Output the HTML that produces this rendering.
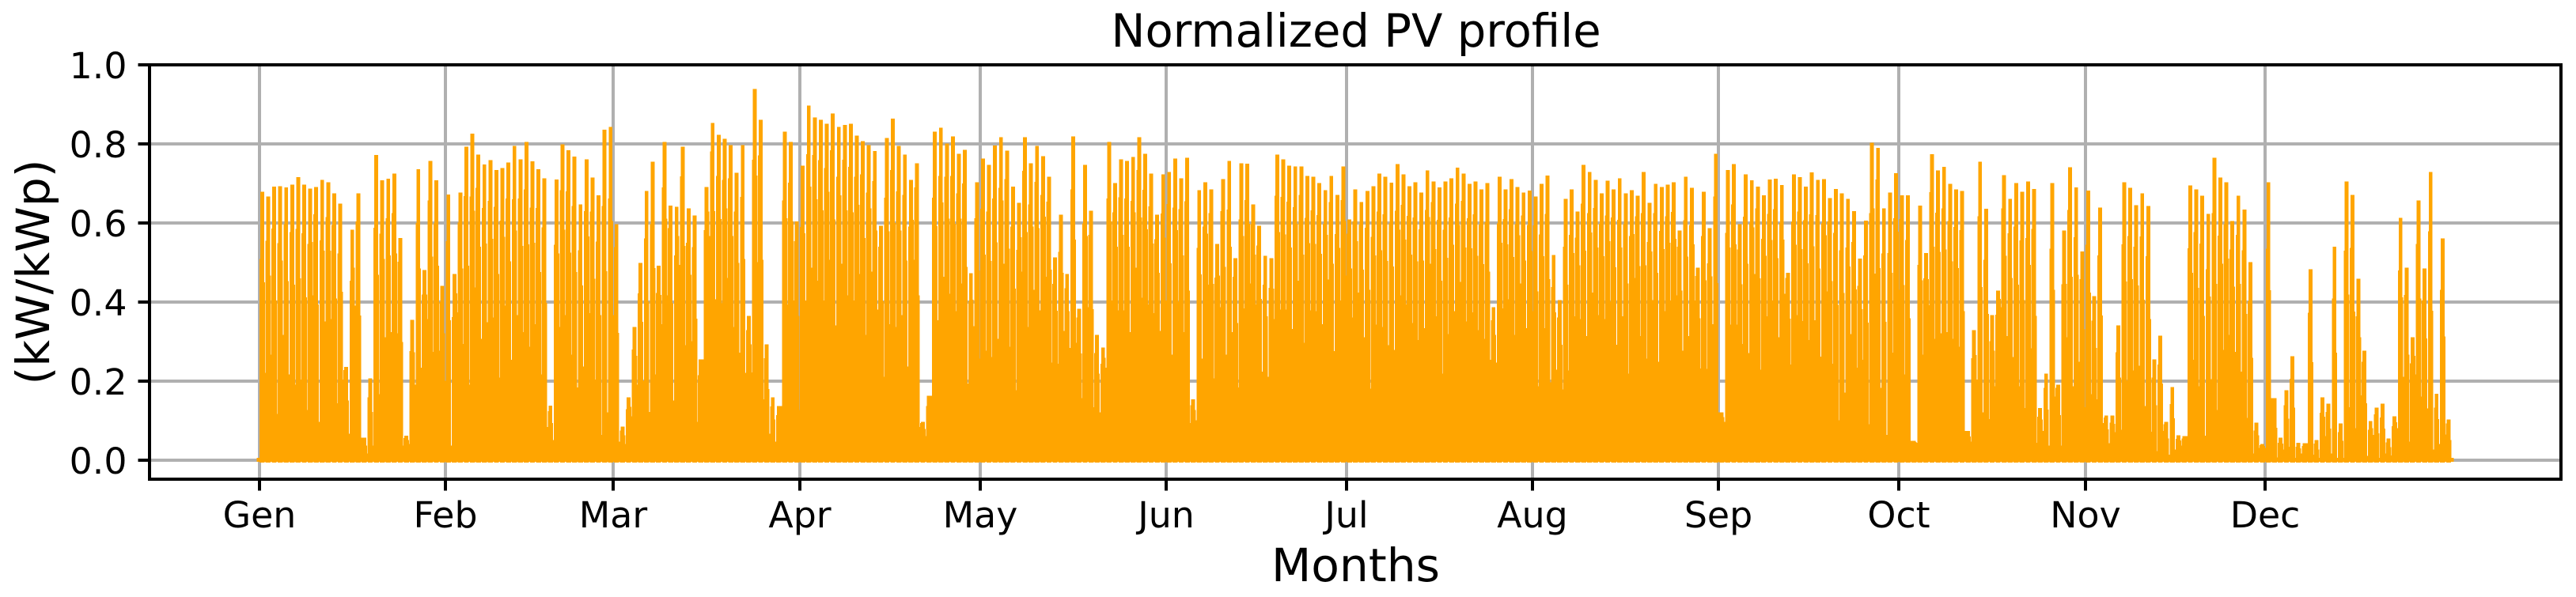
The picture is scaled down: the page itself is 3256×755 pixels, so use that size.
<!DOCTYPE html>
<html lang="en">
<head>
<meta charset="utf-8">
<title>Normalized PV profile</title>
<style>
html,body{margin:0;padding:0;background:#fff;width:3256px;height:755px;overflow:hidden}
svg{display:block}
text{font-family:"DejaVu Sans","Liberation Sans",sans-serif;fill:#000}
</style>
</head>
<body>
<svg id="chart" xmlns="http://www.w3.org/2000/svg" width="3256" height="755" viewBox="0 0 3256 755"></svg>
<script>
const chartTitle = "Normalized PV profile";
const xAxisTitle = "Months";
const yAxisTitle = "(kW/kWp)";
const monthLabels = ["Gen","Feb","Mar","Apr","May","Jun","Jul","Aug","Sep","Oct","Nov","Dec"];
const monthStartHours = [0,744,1416,2160,2880,3624,4344,5088,5832,6552,7296,8016];
const yTickValues = [0,0.2,0.4,0.6,0.8,1];
const yTickLabels = ["0.0","0.2","0.4","0.6","0.8","1.0"];
const hoursPerDay = 24;
const lastHour = 8759;
const dailyPeak = [
.679,.667,.692,.693,.690,.697,.716,.697,.687,.691,.709,.703,.675,.649,.236,.583,.675,.057,.207,.772,.708,.712,.725,.562,.062,.355,.736,.481,.757,.708,.441,.672,.471,.677,.793,.826,.773,.748,.759,.734,.739,.753,.795,.761,.805,.756,.736,.713,.138,.710,.799,.784,.768,.647,.761,.715,.670,.836,.843,.597,.085,
.159,.337,.499,.681,.755,.492,.805,.644,.641,.793,.637,.619,.255,.691,.853,.823,.813,.797,.727,.797,.365,.939,.861,.293,.159,.137,.831,.805,.604,.745,.897,.867,.861,.851,.877,.843,.848,.851,.821,.807,.797,.782,.593,.815,.864,.795,.773,.709,.751,.097,.163,.831,.841,.801,.819,.775,.785,.473,.703,.763,.747,
.796,.817,.783,.692,.651,.817,.751,.795,.769,.717,.513,.621,.471,.819,.383,.747,.631,.317,.285,.805,.701,.761,.757,.767,.817,.775,.725,.621,.723,.729,.763,.713,.765,.154,.683,.703,.685,.547,.711,.757,.511,.751,.750,.647,.593,.517,.511,.773,.761,.745,.743,.743,.719,.717,.701,.683,.719,.671,.743,.609,.685,
.653,.681,.693,.725,.717,.702,.749,.723,.693,.703,.677,.733,.705,.690,.705,.713,.740,.725,.699,.705,.685,.701,.387,.717,.685,.711,.691,.677,.682,.667,.699,.720,.519,.405,.661,.685,.629,.747,.729,.709,.675,.707,.685,.713,.675,.683,.669,.729,.651,.699,.691,.697,.703,.581,.717,.689,.487,.679,.587,.775,.121,
.734,.749,.597,.723,.708,.692,.670,.710,.712,.696,.474,.723,.716,.692,.728,.709,.711,.663,.686,.675,.661,.630,.510,.606,.803,.790,.637,.677,.726,.670,.670,.049,.644,.524,.774,.733,.742,.699,.685,.681,.074,.329,.755,.636,.367,.429,.721,.661,.701,.679,.705,.686,.132,.219,.701,.191,.581,.741,.690,.528,.682,
.415,.639,.113,.113,.341,.703,.689,.645,.675,.643,.255,.315,.097,.185,.063,.061,.695,.685,.669,.623,.765,.715,.703,.605,.669,.634,.501,.095,.041,.703,.157,.057,.177,.263,.044,.043,.483,.051,.159,.143,.540,.093,.705,.671,.459,.277,.099,.133,.143,.055,.111,.613,.487,.311,.657,.485,.729,.168,.561,.103
];
const dailyValley = [
.221,.267,.117,.317,.217,.191,.204,.127,.417,.097,.351,.357,.144,.204,.067,.391,.057,.017,.037,.167,.311,.324,.321,.037,.041,.191,.234,.357,.274,.277,.201,.037,.374,.294,.191,.437,.307,.349,.361,.209,.391,.254,.367,.324,.287,.344,.217,.084,.051,.337,.367,.267,.184,.237,.372,.204,.064,.121,.367,.047,.041,
.111,.191,.201,.122,.217,.344,.417,.151,.494,.291,.301,.097,.314,.567,.407,.397,.461,.337,.272,.221,.222,.501,.154,.067,.047,.491,.394,.404,.127,.404,.487,.454,.404,.507,.341,.497,.417,.404,.471,.317,.477,.381,.211,.344,.337,.367,.237,.507,.084,.061,.457,.354,.464,.421,.377,.447,.194,.339,.257,.277,.261,
.307,.497,.287,.177,.477,.337,.431,.379,.464,.247,.244,.327,.284,.297,.157,.387,.134,.121,.234,.404,.379,.379,.324,.487,.411,.394,.372,.327,.404,.267,.401,.324,.094,.101,.257,.444,.207,.387,.267,.324,.184,.384,.447,.394,.224,.211,.357,.381,.381,.332,.454,.297,.379,.377,.344,.457,.276,.404,.467,.361,.424,
.311,.181,.343,.337,.291,.279,.417,.394,.347,.304,.334,.497,.364,.219,.319,.377,.451,.351,.374,.329,.307,.254,.247,.384,.407,.317,.447,.334,.377,.187,.334,.197,.229,.179,.227,.364,.357,.314,.424,.367,.357,.401,.292,.364,.219,.461,.314,.257,.405,.249,.377,.404,.417,.277,.314,.404,.232,.231,.344,.337,.097,
.343,.343,.294,.271,.471,.229,.364,.404,.311,.421,.242,.367,.352,.304,.354,.262,.427,.244,.101,.171,.319,.234,.254,.091,.472,.183,.064,.272,.431,.217,.074,.044,.267,.392,.307,.321,.324,.307,.287,.157,.047,.204,.121,.104,.187,.387,.314,.261,.187,.132,.283,.044,.074,.037,.161,.037,.311,.187,.249,.134,.167,
.154,.094,.043,.071,.077,.201,.227,.239,.137,.072,.023,.074,.014,.027,.037,.091,.254,.187,.062,.205,.127,.279,.317,.274,.224,.107,.017,.031,.031,.231,.007,.027,.034,.004,.017,.044,.014,.004,.061,.017,.005,.005,.134,.081,.164,.011,.064,.004,.017,.012,.081,.211,.047,.217,.161,.131,.027,.041,.065,0
];

const SVG_NS = "http://www.w3.org/2000/svg";
const svg = document.getElementById("chart");
const axLeft = 189, axRight = 3237, axTop = 82, axBottom = 606;
const y0px = 582, pxPerUnit = 500;
const xMarginPx = (axRight - axLeft) / 1.1 * 0.05;
const pxPerHour = (axRight - axLeft) / 1.1 / lastHour;
const PV_ORANGE = "#FFA500", GRID = "#b0b0b0";

function xScale(h){ return axLeft + xMarginPx + h * pxPerHour; }
function yScale(v){ return y0px - v * pxPerUnit; }
function make(tag, attrs, text){
  const n = document.createElementNS(SVG_NS, tag);
  for (const k in attrs) n.setAttribute(k, attrs[k]);
  if (text !== undefined) n.textContent = text;
  svg.appendChild(n);
  return n;
}
const crisp = "crispEdges";

const plotBg = make("rect",{x:axLeft,y:axTop,width:axRight-axLeft,height:axBottom-axTop,fill:"#fff"});



/* grid */
yTickValues.forEach(function(v){
  const g = make("rect",{x:axLeft,y:yScale(v)-2,width:axRight-axLeft,height:4,fill:GRID,"shape-rendering":crisp});
  
  
});
monthStartHours.forEach(function(h){
  const g = make("rect",{x:Math.round(xScale(h))-2,y:axTop,width:4,height:axBottom-axTop,fill:GRID,"shape-rendering":crisp});
  
  
});

/* baseline of the series (night hours at zero) */
const base = make("rect",{x:xScale(0)-3,y:yScale(0)-3,width:xScale(lastHour)-xScale(0)+6,height:5,fill:PV_ORANGE,"shape-rendering":crisp});



/* one tower per day, driven by dailyPeak / dailyValley */
dailyPeak.forEach(function(peak, d){
  const cx = xScale(d * hoursPerDay + 12);
  const prevPeak = d > 0 ? dailyPeak[d-1] : 0;
  const nextPeak = d < dailyPeak.length-1 ? dailyPeak[d+1] : 0;
  const vL = Math.min(d > 0 ? dailyValley[d-1] : 0, peak, prevPeak);
  const vR = Math.min(dailyValley[d], peak, nextPeak);
  const sL = vL + (peak - vL) * 0.75, sR = vR + (peak - vR) * 0.5;
  const yb = yScale(0) + 3, yn = yScale(0) + 2;
  const pts = [
    [cx-3.2,yb],[cx-3.2,yn],[cx-3.9,yn],[cx-3.9,yScale(vL)],[cx-3.45,yScale(vL)],
    [cx-3.45,yScale(sL)],[cx-2.45,yScale(sL)],[cx-2.45,yScale(peak)],
    [cx+2.45,yScale(peak)],[cx+2.45,yScale(sR)],[cx+3.45,yScale(sR)],
    [cx+3.45,yScale(vR)],[cx+3.9,yScale(vR)],[cx+3.9,yn],[cx+3.2,yn],[cx+3.2,yb]
  ];
  const p = make("polygon",{points:pts.map(function(q){return q[0].toFixed(2)+","+q[1].toFixed(2);}).join(" "),fill:PV_ORANGE,"shape-rendering":crisp});
  
  
});

/* ticks */
yTickValues.forEach(function(v,i){
  const t = make("rect",{x:axLeft-14.6,y:yScale(v)-2,width:14.6,height:4,fill:"#000","shape-rendering":crisp});
  
  
  const l = make("text",{x:160.5,y:yScale(v)+17,"text-anchor":"end","font-size":"45.8"},yTickLabels[i]);
  
  
});
monthStartHours.forEach(function(h,i){
  const x = Math.round(xScale(h));
  const t = make("rect",{x:x-2,y:axBottom,width:4,height:14.6,fill:"#000","shape-rendering":crisp});
  
  
  const l = make("text",{x:x,y:667,"text-anchor":"middle","font-size":"45.8"},monthLabels[i]);
  
  
});

/* spines */
const spineTop = make("rect",{x:axLeft-2,y:axTop-2,width:axRight-axLeft+4,height:4,fill:"#000","shape-rendering":crisp});


const spineBottom = make("rect",{x:axLeft-2,y:axBottom-2,width:axRight-axLeft+4,height:4,fill:"#000","shape-rendering":crisp});


const spineLeft = make("rect",{x:axLeft-2,y:axTop-2,width:4,height:axBottom-axTop+4,fill:"#000","shape-rendering":crisp});


const spineRight = make("rect",{x:axRight-2,y:axTop-2,width:4,height:axBottom-axTop+4,fill:"#000","shape-rendering":crisp});



/* titles */
const titleEl = make("text",{x:1714,y:59,"text-anchor":"middle","font-size":"57.6"},chartTitle);


const xTitleEl = make("text",{x:1713.5,y:735,"text-anchor":"middle","font-size":"58.3"},xAxisTitle);


const yTitleEl = make("text",{x:0,y:0,transform:"translate(62,344) rotate(-90)","text-anchor":"middle","font-size":"58.3"},yAxisTitle);


</script>
</body>
</html>
